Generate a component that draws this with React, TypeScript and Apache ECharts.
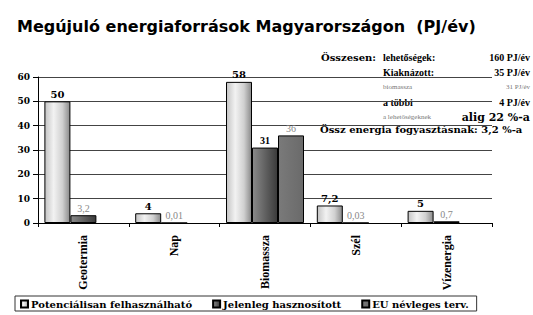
import React, { useEffect, useRef } from 'react';
import * as echarts from 'echarts';

const categories = ['Geotermia', 'Nap', 'Biomassza', 'Szél', 'Vízenergia'];
const seriesNames = ['Potenciálisan felhasználható', 'Jelenleg hasznosított', 'EU névleges terv.'];
const potential = [50, 4, 58, 7.2, 5];
const current = [3.2, 0.01, 31, 0.03, 0.7];
const target: (number | null)[] = [null, null, 36, null, null];
const yMin = 0;
const yMax = 60;
const yInterval = 10;

const titleText = 'Megújuló energiaforrások Magyarországon  (PJ/év)';
const noteLabels = ['lehetőségek:', 'Kiaknázott:', 'biomassza', 'a többi', 'a lehetőségeknek'];
const noteValues = ['160 PJ/év', '35 PJ/év', '31 PJ/év', '4 PJ/év', 'alig 22 %-a'];
const noteTotal = 'Össz energia fogyasztásnak: 3,2 %-a';

const fmt = (p: any) => (p.value == null ? '' : String(p.value).replace('.', ','));

export default function App() {
  const ref = useRef<HTMLDivElement>(null);
  useEffect(() => {
    if (!ref.current) return;
    const chart = echarts.init(ref.current, null, { renderer: 'svg' });
    const serif = '"Liberation Serif", "Times New Roman", serif';
    const wideSerif = '"DejaVu Serif", serif';
    const g1 = new echarts.graphic.LinearGradient(0, 0, 1, 0, [
      { offset: 0, color: '#c4c4c4' },
      { offset: 0.35, color: '#f2f2f2' },
      { offset: 0.7, color: '#d0d0d0' },
      { offset: 1, color: '#8a8a8a' },
    ]);
    const g2 = new echarts.graphic.LinearGradient(0, 0, 1, 0, [
      { offset: 0, color: '#8a8a8a' },
      { offset: 0.4, color: '#6a6a6a' },
      { offset: 1, color: '#3a3a3a' },
    ]);
    const g3 = new echarts.graphic.LinearGradient(0, 0, 1, 0, [
      { offset: 0, color: '#7a7a7a' },
      { offset: 1, color: '#6a6a6a' },
    ]);
    const currentData = current.map((v) =>
      v >= 10
        ? { value: v, label: { color: '#000', fontWeight: 'bold' } }
        : { value: v }
    );
    const rowY = [57, 72, 87, 102, 117];
    const noteChildren: any[] = [
      { type: 'rect', shape: { x: 313, y: 47, width: 220, height: 90 }, style: { fill: '#fff' } },
      { type: 'text', style: { text: 'Összesen:', x: 321, y: rowY[0], font: `bold 10px ${wideSerif}`, fill: '#000', verticalAlign: 'middle' } },
      { type: 'text', style: { text: noteTotal, x: 320, y: 129, font: `bold 10px ${wideSerif}`, fill: '#000', verticalAlign: 'middle' } },
    ];
    noteLabels.forEach((t, i) => {
      const small = i === 2 || i === 4;
      noteChildren.push({
        type: 'text',
        style: {
          text: t, x: 383, y: rowY[i], verticalAlign: 'middle',
          font: small ? `7px ${serif}` : `bold 10px ${serif}`, fill: small ? '#777' : '#000',
        },
      });
      noteChildren.push({
        type: 'text',
        style: {
          text: noteValues[i], x: 530, y: rowY[i], align: 'right', verticalAlign: 'middle',
          font: i === 4 ? `bold 11px ${wideSerif}` : i === 2 ? `7px ${serif}` : `bold 10px ${serif}`,
          fill: i === 2 ? '#777' : '#000',
        },
      });
    });

    chart.setOption({
      animation: false,
      backgroundColor: '#fff',
      title: {
        text: titleText, left: 12, top: 13,
        textStyle: { fontFamily: '"DejaVu Sans", sans-serif', fontWeight: 'bold', fontSize: 16, color: '#000' },
      },
      grid: { left: 38, right: 41, top: 77, bottom: 92 },
      legend: {
        data: seriesNames, left: 15, top: 296, itemGap: 20, itemWidth: 7, itemHeight: 7, icon: 'rect',
        borderColor: '#333', borderWidth: 1, padding: [3, 8, 2, 5], borderRadius: 0,
        textStyle: { fontFamily: wideSerif, fontWeight: 'bold', fontSize: 10, color: '#000', padding: [0, 0, 0, -2] },
      },
      xAxis: {
        type: 'category', data: categories,
        axisLine: { lineStyle: { color: '#000', width: 1 } },
        axisTick: { show: true, length: 4, lineStyle: { color: '#000' } },
        axisLabel: { rotate: 90, margin: 12, fontFamily: serif, fontWeight: 'bold', fontSize: 12, color: '#000' },
      },
      yAxis: {
        type: 'value', min: yMin, max: yMax, interval: yInterval,
        axisLine: { show: true, lineStyle: { color: '#000', width: 1 } },
        axisTick: { show: true, length: 5, lineStyle: { color: '#000' } },
        axisLabel: { margin: 8, fontFamily: wideSerif, fontWeight: 'bold', fontSize: 9, color: '#000' },
        splitLine: { lineStyle: { color: '#444', width: 1 } },
      },
      series: [
        {
          name: seriesNames[0], type: 'bar', data: potential, barWidth: 26, barGap: '0%',
          itemStyle: { color: g1, borderColor: '#000', borderWidth: 1 },
          label: { show: true, position: 'top', distance: 2, formatter: fmt, fontFamily: wideSerif, fontWeight: 'bold', fontSize: 10, color: '#000' },
        },
        {
          name: seriesNames[1], type: 'bar', data: currentData, barWidth: 26,
          itemStyle: { color: g2, borderColor: '#000', borderWidth: 1 },
          label: { show: true, position: 'top', distance: 2, formatter: fmt, fontFamily: serif, fontSize: 10, color: '#888' },
        },
        {
          name: seriesNames[2], type: 'bar', data: target, barWidth: 26,
          itemStyle: { color: g3, borderColor: '#000', borderWidth: 1 },
          label: { show: true, position: 'top', distance: 2, formatter: fmt, fontFamily: serif, fontSize: 10, color: '#888' },
        },
      ],
      graphic: [{ type: 'group', z: 100, children: noteChildren }],
    });
    return () => chart.dispose();
  }, []);
  return <div ref={ref} style={{ position: 'absolute', left: 0, top: 0, width: 533, height: 315 }} />;
}
